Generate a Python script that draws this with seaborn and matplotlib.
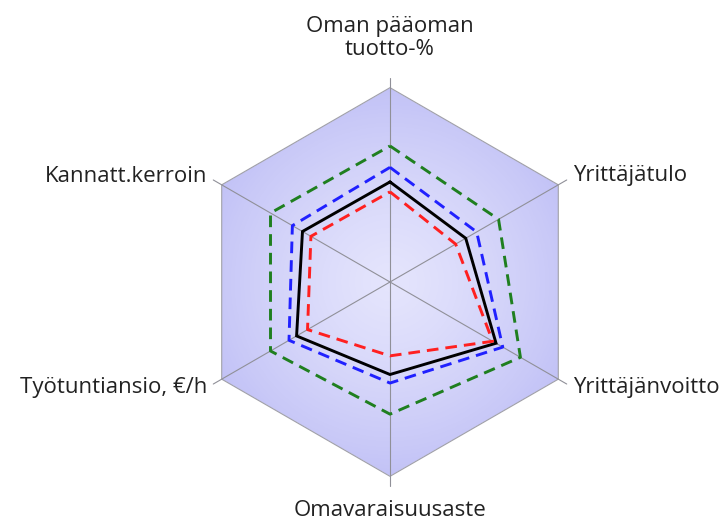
import numpy as np
import pandas as pd
import matplotlib
matplotlib.use("Agg")
import matplotlib.pyplot as plt
from matplotlib.colors import LinearSegmentedColormap
import seaborn as sns

# axis labels, clockwise from the top
labels = ["Oman pääoman\ntuotto-%", "Yrittäjätulo", "Yrittäjänvoitto",
          "Omavaraisuusaste", "Työtuntiansio, €/h", "Kannatt.kerroin"]

# series values (share of the outer hexagon), same order as labels
green = [0.70, 0.645, 0.775, 0.68, 0.71, 0.71]
blue = [0.59, 0.515, 0.67, 0.52, 0.60, 0.58]
black = [0.515, 0.45, 0.63, 0.476, 0.555, 0.52]
red = [0.464, 0.39, 0.61, 0.38, 0.49, 0.47]

sns.set_theme(style="white")
plt.rcParams["font.family"] = ["Open Sans", "DejaVu Sans"]
plt.rcParams["text.color"] = "#222222"

n = len(labels)
theta = np.arange(n) * 2 * np.pi / n
theta_c = np.append(theta, 2 * np.pi)

fig = plt.figure(figsize=(7.27, 5.22), dpi=100)
ax = fig.add_axes([(390 - 206) / 727, (522 - 282 - 206) / 522, 412 / 727, 412 / 522],
                  projection="polar")
ax.set_theta_offset(np.pi / 2)
ax.set_theta_direction(-1)
ax.set_ylim(0, 1.06)
ax.grid(False)
ax.spines["polar"].set_visible(False)
ax.set_xticks([])
ax.set_yticks([])
ax.patch.set_alpha(0)

# background hexagon with radial gradient
hexagon = ax.fill(theta_c, np.ones(n + 1), facecolor="none",
                  edgecolor="#a0a0a8", linewidth=0.8, zorder=2)[0]
cmap = LinearSegmentedColormap.from_list("bg", ["#e4e4fc", "#c2c2f6"])
tt, rr = np.meshgrid(np.linspace(0, 2 * np.pi, 361), np.linspace(0, 1, 101))
mesh = ax.pcolormesh(tt, rr, rr[:-1, :-1] ** 1.3, cmap=cmap, shading="flat",
                     zorder=1, rasterized=True)
mesh.set_clip_path(hexagon)

# spokes
for t in theta:
    ax.plot([t, t], [0, 1.05], color="#909098", linewidth=0.8, zorder=3)

series = [("green", green, "#1f7f1f", "--"),
          ("blue", blue, "#2020ff", "--"),
          ("black", black, "black", "-"),
          ("red", red, "#ff2020", "--")]
for name, vals, col, ls in series:
    df = pd.DataFrame({"theta": theta_c, "r": vals + vals[:1]})
    sns.lineplot(data=df, x="theta", y="r", sort=False, estimator=None,
                 color=col, linewidth=2.1, ax=ax, zorder=4)
    line = ax.lines[-1]
    line.set_solid_joinstyle("miter")
    if ls == "--":
        line.set_linestyle((0, (4.0, 2.4)))
ax.set_xlabel("")
ax.set_ylabel("")

# category labels
fs = 16
fig.text(390 / 727, 1 - 38 / 522, labels[0], ha="center", va="center",
         fontsize=fs, linespacing=1.1)
fig.text(573 / 727, 1 - 176 / 522, labels[1], ha="left", va="center", fontsize=fs)
fig.text(573 / 727, 1 - 388 / 522, labels[2], ha="left", va="center", fontsize=fs)
fig.text(390 / 727, 1 - 511 / 522, labels[3], ha="center", va="center", fontsize=fs)
fig.text(207 / 727, 1 - 388 / 522, labels[4], ha="right", va="center", fontsize=fs)
fig.text(207 / 727, 1 - 176 / 522, labels[5], ha="right", va="center", fontsize=fs)

fig.savefig("out.png", dpi=100)
